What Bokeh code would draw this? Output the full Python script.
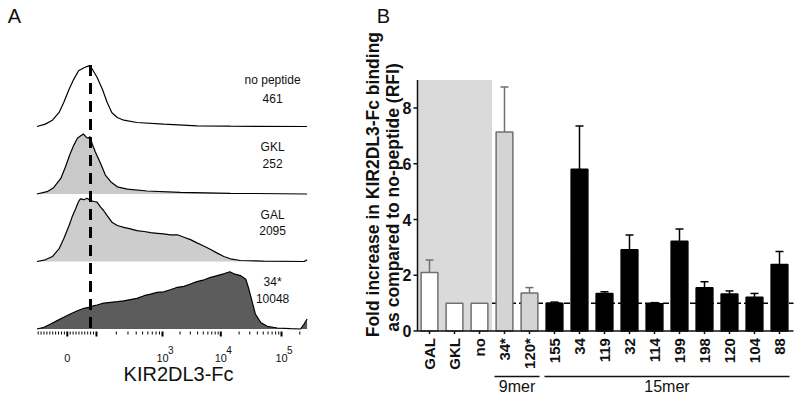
import math
from bokeh.plotting import figure
from bokeh.models import Range1d
from bokeh.layouts import row
from bokeh.embed import file_html
from bokeh.resources import INLINE
from bokeh.core.properties import value

FONT = "Liberation Sans"
INK = "#111111"

# ---------------- Panel A data (display channel in decade units, % of max) ----------------
hist_names = ["no peptide", "GKL", "GAL", "34*"]
hist_mfi = ["461", "252", "2095", "10048"]

nopep_x = [0.89, 1.03, 1.15, 1.26, 1.34, 1.43, 1.51, 1.59, 1.68, 1.76, 1.82, 1.90, 1.99, 2.07,
           2.15, 2.24, 2.35, 2.57, 3.02, 3.58, 4.14, 5.43]
nopep_v = [0, 4, 10.5, 23, 40, 62, 79, 93, 98, 101, 95.5, 82, 62, 40, 23, 15, 10.5, 6.7, 4, 1.2, 0.5, 0]

gkl_x = [0.89, 1.06, 1.17, 1.29, 1.37, 1.44, 1.51, 1.57, 1.62, 1.67, 1.71, 1.75, 1.78, 1.82,
         1.87, 1.96, 2.04, 2.13, 2.24, 2.41, 2.74, 3.30, 4.14, 5.43]
gkl_v = [0, 3.9, 10.5, 26, 45.5, 65, 81.5, 93, 96.5, 100, 95.5, 93, 95.5, 83, 70.5, 51, 31.5,
         20.5, 12, 8, 5, 2.8, 1.2, 0]

gal_x = [0.89, 1.03, 1.15, 1.26, 1.34, 1.43, 1.48, 1.54, 1.59, 1.62, 1.68, 1.73, 1.79, 1.85,
         1.90, 1.96, 2.01, 2.07, 2.15, 2.24, 2.35, 2.46, 2.57, 2.69, 2.80, 2.91, 3.02, 3.13,
         3.25, 3.36, 3.47, 3.58, 3.70, 3.81, 3.92, 4.03, 4.14, 4.31, 4.70, 5.38, 5.43]
gal_v = [0, 2.8, 8.3, 21, 38, 60, 74, 88, 100, 104.5, 103, 105.5, 101.5, 100, 99, 90.5, 85,
         76.5, 65.5, 60, 57, 54.5, 51.5, 50, 48, 47, 46, 44.5, 44.5, 40.5, 36.5, 31, 25.5, 20,
         14, 8.3, 4.5, 1.7, 0.5, 0, 3]

p34_x = [0.89, 1.01, 1.12, 1.23, 1.34, 1.45, 1.57, 1.68, 1.76, 1.82, 1.90, 2.01, 2.13, 2.24,
         2.35, 2.46, 2.57, 2.69, 2.80, 2.91, 3.02, 3.13, 3.25, 3.36, 3.47, 3.58, 3.70, 3.81,
         3.92, 4.03, 4.13, 4.20, 4.31, 4.40, 4.45, 4.51, 4.56, 4.65, 4.76, 4.93, 5.15, 5.32,
         5.38, 5.43]
p34_v = [0, 2.8, 8.3, 14, 19.5, 25, 30.5, 34.5, 36, 38, 40, 43, 44.5, 45.5, 47, 49, 51, 55.5,
         58, 61, 62, 65.5, 69.5, 71, 75, 79, 82, 86, 89, 92, 95.5, 92, 89, 83, 67, 44.5, 25, 11,
         4.5, 1.7, 0.5, 0, 8.3, 16.7]

hist_x = [nopep_x, gkl_x, gal_x, p34_x]
hist_v = [nopep_v, gkl_v, gal_v, p34_v]
hist_fill = [None, "#c9c9c9", "#cdcdcd", "#5c5c5c"]
peak_ref = 1.79  # position of the no-peptide mode (dashed line)

# biexponential display anchors: value -> display position
zero_pos = 1.40
decade_pos = {2: 1.89, 3: 3.0, 4: 3.98, 5: 5.0}
decade_labels = {3: "3", 4: "4", 5: "5"}
axis_a_title = "KIR2DL3-Fc"

# ---------------- Panel B data ----------------
cats = ["GAL", "GKL", "no", "34*", "120*", "155", "34", "119", "32", "114", "199", "198",
        "120", "104", "88"]
fold = [2.10, 1.00, 1.00, 7.14, 1.37, 1.00, 5.80, 1.35, 2.92, 0.98, 3.22, 1.55, 1.33, 1.21, 2.39]
sem = [0.45, 0.0, 0.0, 1.61, 0.19, 0.04, 1.55, 0.06, 0.52, 0.04, 0.44, 0.22, 0.11, 0.14, 0.46]
group = ["ctrl", "ctrl", "ctrl", "9mer", "9mer", "15mer", "15mer", "15mer", "15mer", "15mer",
         "15mer", "15mer", "15mer", "15mer", "15mer"]
group_names = ["9mer", "15mer"]
y_ticks_b = [0, 2, 4, 6, 8]
y_max_b = 9
y_title_b = ["Fold increase in KIR2DL3-Fc binding", "as compared to no-peptide (RFI)"]


def clean(fig):
    fig.outline_line_color = None
    fig.xgrid.visible = False
    fig.ygrid.visible = False
    fig.min_border = 0
    fig.min_border_left = 0
    fig.min_border_right = 0
    fig.min_border_top = 0
    fig.min_border_bottom = 0


# ================= Panel A figure (frame = whole canvas, 1 y unit = 1 px) =================
WA, HA = 340, 400
PXD = 59.5            # px per display decade
XA0 = 3 + (0 - 162) / PXD
YA_TOP = 331
pA = figure(width=WA, height=HA, x_range=Range1d(XA0, XA0 + WA / PXD),
            y_range=Range1d(YA_TOP - HA, YA_TOP),
            output_backend="svg", toolbar_location=None, x_axis_location=None,
            y_axis_location=None)
clean(pA)

row_base = [205, 137.5, 70, 2.5]
scale = 0.6
for xs, vs, fc, b in zip(hist_x, hist_v, hist_fill, row_base):
    ys = [b + scale * v for v in vs]
    if fc is not None:
        pA.patch([xs[0]] + xs + [xs[-1]], [b] + ys + [b], fill_color=fc, line_color=None)
    pA.line(xs, ys, line_color="black", line_width=1.2)

pA.line([peak_ref, peak_ref], [row_base[0] + scale * max(nopep_v) + 1, 0],
        line_color="black", line_width=3, line_dash="11 7")

lab_x = 4.85
pA.text(x=[lab_x] * 4, y=[b + 47 for b in row_base], text=hist_names, text_align="center",
        text_baseline="middle", text_font=value(FONT), text_font_size="12px", text_color=INK)
pA.text(x=[lab_x] * 4, y=[row_base[0] + 28] + [b + 31 for b in row_base[1:]], text=hist_mfi,
        text_align="center", text_baseline="middle", text_font=value(FONT),
        text_font_size="12px", text_color=INK)

# axis ticks
major_a = [zero_pos] + [decade_pos[k] for k in (2, 3, 4, 5)]
minor_a = []
for k in range(-10, 10):
    if k != 0:
        minor_a.append(zero_pos + k * (decade_pos[2] - zero_pos) / 10)
for n in (2, 3, 4):
    for m in range(2, 10):
        minor_a.append(decade_pos[n] + (decade_pos[n + 1] - decade_pos[n]) * math.log10(m))
minor_a.append(decade_pos[5] + (decade_pos[5] - decade_pos[4]) * math.log10(2))
minor_a = [t for t in minor_a if t > 0.89]
pA.segment(x0=minor_a, y0=[0] * len(minor_a), x1=minor_a, y1=[-3] * len(minor_a),
           line_color="black", line_width=1)
pA.segment(x0=major_a, y0=[0] * len(major_a), x1=major_a, y1=[-5] * len(major_a),
           line_color="black", line_width=2)
pA.text(x=[zero_pos], y=[-26], text=["0"], text_align="center", text_baseline="middle",
        text_font=value(FONT), text_font_size="11px", text_color=INK)
dk = [3, 4, 5]
pA.text(x=[decade_pos[k] for k in dk], y=[-26] * 3, text=["10"] * 3, text_align="center",
        text_baseline="middle", text_font=value(FONT), text_font_size="11px", text_color=INK)
pA.text(x=[decade_pos[k] + 5.5 / PXD for k in dk], y=[-18] * 3, text=[decade_labels[k] for k in dk],
        text_align="left", text_baseline="middle", text_font=value(FONT),
        text_font_size="10px", text_color=INK)
pA.text(x=[3.27], y=[-42], text=[axis_a_title], text_align="center", text_baseline="middle",
        text_font=value(FONT), text_font_size="20px", text_color=INK)
pA.text(x=[3 + (14 - 162) / PXD], y=[YA_TOP - 15.5], text=["A"], text_align="center",
        text_baseline="middle", text_font=value(FONT), text_font_size="20px", text_color=INK)

# ================= Panel B figure (frame = whole canvas) =================
WB, HB = 460, 400
PXC = 25.0     # px per category
PXY = 27.9     # px per fold unit
Y0_PX = 330.6  # pixel row of fold = 0
XB0 = (340 - 429) / PXC
YB0 = (Y0_PX - HB) / PXY
pB = figure(width=WB, height=HB, x_range=Range1d(XB0, XB0 + WB / PXC),
            y_range=Range1d(YB0, YB0 + HB / PXY), output_backend="svg", toolbar_location=None,
            x_axis_location=None, y_axis_location=None)
clean(pB)

xs_b = list(range(len(cats)))
left_b = -0.48
right_b = len(cats) - 0.44
n_ctrl = group.count("ctrl")
pB.quad(left=[left_b], right=[n_ctrl - 0.5], bottom=[0], top=[y_max_b], fill_color="#dadada",
        line_color=None)
pB.line([n_ctrl - 0.5, right_b], [1, 1], line_color="black", line_width=1.5, line_dash="6 3")

fills = {"ctrl": "white", "9mer": "#d4d4d4", "15mer": "black"}
edges = {"ctrl": "#707070", "9mer": "#707070", "15mer": "black"}
bw = 0.67
pB.vbar(x=xs_b, top=fold, width=bw, bottom=0,
        fill_color=[fills[g] for g in group], line_color=[edges[g] for g in group],
        line_width=1.5)

ex, ey0, ey1, cx0, cx1, cy, ec = [], [], [], [], [], [], []
for i, (f, s, g) in enumerate(zip(fold, sem, group)):
    if s > 0:
        ex.append(i); ey0.append(f); ey1.append(f + s)
        cx0.append(i - 0.16); cx1.append(i + 0.16); cy.append(f + s)
        ec.append(edges[g])
pB.segment(x0=ex, y0=ey0, x1=ex, y1=ey1, line_color=ec, line_width=1.5)
pB.segment(x0=cx0, y0=cy, x1=cx1, y1=cy, line_color=ec, line_width=1.5)

# axes
pB.segment(x0=[left_b, left_b], y0=[0, 0], x1=[left_b, right_b], y1=[y_max_b, 0],
           line_color=INK, line_width=1.5)
tick_x0 = left_b - 4 / PXC
pB.segment(x0=[tick_x0] * len(y_ticks_b), y0=y_ticks_b, x1=[left_b] * len(y_ticks_b),
           y1=y_ticks_b, line_color=INK, line_width=1.5)
pB.text(x=[left_b - 6 / PXC] * len(y_ticks_b), y=y_ticks_b, text=[str(t) for t in y_ticks_b],
        text_align="right", text_baseline="middle", text_font=value(FONT),
        text_font_size="16px", text_font_style="bold", text_color=INK)
pB.segment(x0=xs_b, y0=[0] * len(xs_b), x1=xs_b, y1=[-3 / PXY] * len(xs_b),
           line_color=INK, line_width=1.5)
pB.text(x=xs_b, y=[-7 / PXY] * len(xs_b), text=cats, angle=math.pi / 2, text_align="right",
        text_baseline="middle", text_font=value(FONT), text_font_size="15px",
        text_font_style="bold", text_color=INK)

# y axis title (two lines)
pB.text(x=[(372 - 429) / PXC, (392 - 429) / PXC], y=[5.25, 4.79], text=y_title_b,
        angle=math.pi / 2, text_align="center", text_baseline="middle", text_font=value(FONT),
        text_font_size="17.5px", text_font_style="bold", text_color=INK)
pB.text(x=[(383 - 429) / PXC], y=[(Y0_PX - 15) / PXY], text=["B"], text_align="center",
        text_baseline="middle", text_font=value(FONT), text_font_size="20px", text_color=INK)

# group brackets
g0, g1, gm = [], [], []
for gname in group_names:
    idx = [i for i, g in enumerate(group) if g == gname]
    g0.append(idx[0] - 0.4); g1.append(idx[-1] + 0.4); gm.append((idx[0] + idx[-1]) / 2)
yb = -45.4 / PXY
pB.segment(x0=g0, y0=[yb] * len(g0), x1=g1, y1=[yb] * len(g0), line_color=INK, line_width=1.3)
pB.text(x=gm, y=[-55.4 / PXY] * len(gm), text=group_names, text_align="center",
        text_baseline="middle", text_font=value(FONT), text_font_size="16px", text_color=INK)

layout = row(pA, pB)
open("out.html", "w").write(file_html(layout, INLINE))
